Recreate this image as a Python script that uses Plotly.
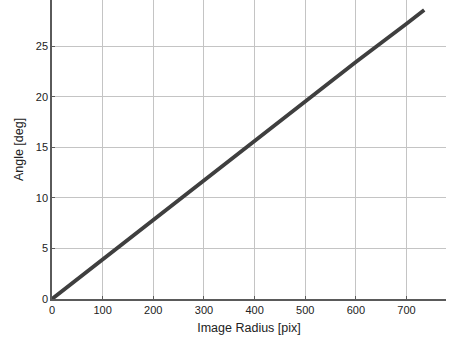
import plotly.graph_objects as go

radius_pix = [0, 100, 200, 300, 400, 500, 600, 700, 735]
angle_deg = [0, 3.92, 7.85, 11.76, 15.67, 19.58, 23.45, 27.25, 28.6]
x_ticks = [0, 100, 200, 300, 400, 500, 600, 700]
y_ticks = [0, 5, 10, 15, 20, 25]

fig = go.Figure()
fig.add_trace(go.Scatter(
    x=radius_pix, y=angle_deg, mode="lines",
    line=dict(color="#3f3f3f", width=3.8),
    showlegend=False,
))

axis_common = dict(
    showgrid=True, gridcolor="#c4c4c4", gridwidth=1,
    zeroline=False,
    showline=True, linecolor="#5a5a5a", linewidth=1.5,
    ticks="inside", ticklen=3, tickcolor="#5a5a5a",
    tickfont=dict(family="Liberation Sans, Arial, sans-serif", size=11, color="#222222"),
    title_font=dict(family="Liberation Sans, Arial, sans-serif", size=12.5, color="#222222"),
)

fig.update_layout(
    width=450, height=344,
    margin=dict(l=52, r=4, t=0, b=45),
    paper_bgcolor="white", plot_bgcolor="white",
    xaxis=dict(range=[0, 778], tickvals=x_ticks, title=dict(text="Image Radius [pix]", standoff=8), **axis_common),
    yaxis=dict(range=[0, 29.6], tickvals=y_ticks, title=dict(text="Angle [deg]", standoff=9), **axis_common),
)

fig.write_html("out.html")
